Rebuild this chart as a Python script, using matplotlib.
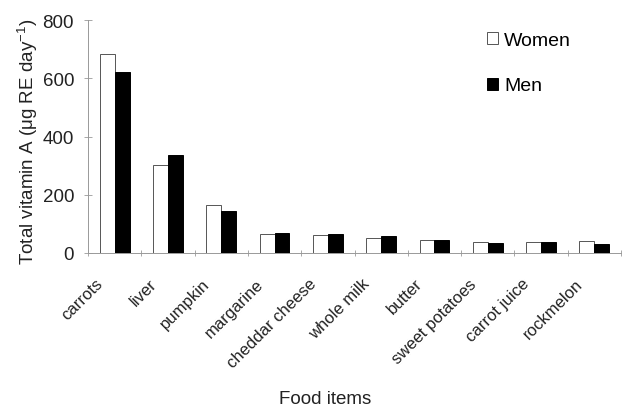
import matplotlib
matplotlib.use('Agg')
import matplotlib.pyplot as plt
import matplotlib.transforms as mtransforms
import numpy as np

foods = ['carrots', 'liver', 'pumpkin', 'margarine', 'cheddar cheese', 'whole milk',
         'butter', 'sweet potatoes', 'carrot juice', 'rockmelon']
women = [684, 301, 164, 65, 61, 51, 44, 37, 37, 41]
men = [622, 335, 143, 68, 64, 58, 44, 34, 37, 31]

plt.rcParams['font.family'] = ['Liberation Sans', 'DejaVu Sans']
plt.rcParams['mathtext.fontset'] = 'custom'
plt.rcParams['mathtext.rm'] = 'Liberation Sans'
plt.rcParams['mathtext.it'] = 'Liberation Sans'

fig = plt.figure(figsize=(6.22, 4.10), dpi=100)
ax = fig.add_axes([88 / 622, 1 - 254 / 410, 533 / 622, 233 / 410])

x = np.arange(len(foods))
w = 0.28
ax.bar(x - w / 2, women, w, color='white', edgecolor='#555555', linewidth=0.7, label='Women')
ax.bar(x + w / 2, men, w, color='black', edgecolor='black', linewidth=0.7, label='Men')

ax.set_xlim(-0.47, 9.29)
ax.set_ylim(0, 800)
ax.set_yticks([0, 200, 400, 600, 800])
ax.tick_params(axis='y', labelsize=13.5, direction='inout', length=6, width=0.6,
               color='#999999', pad=7, labelcolor='#222222')

ax.set_xticks(x)
ax.set_xticklabels(foods, rotation=45, ha='right', va='center', rotation_mode='anchor',
                   fontsize=12, color='#222222')
ax.tick_params(axis='x', length=0, pad=0)
offset = mtransforms.ScaledTranslation(-0.14, -0.28, fig.dpi_scale_trans)
for lab in ax.get_xticklabels():
    lab.set_transform(lab.get_transform() + offset)
ax.set_xticks(np.arange(-0.5, 9.6, 1.0), minor=True)
ax.tick_params(axis='x', which='minor', direction='inout', length=5, width=0.6, color='#999999')

for s in ['top', 'right']:
    ax.spines[s].set_visible(False)
ax.spines['left'].set_color('#999999')
ax.spines['bottom'].set_color('#999999')
ax.spines['left'].set_linewidth(0.7)
ax.spines['bottom'].set_linewidth(0.7)

ax.set_ylabel('Total vitamin A (\u03bcg RE day$^{-1}$)', fontsize=13.5, color='#222222')
ax.yaxis.set_label_coords(-0.09, 0.48)
ax.set_xlabel('Food items', fontsize=13.5, color='#222222')
ax.xaxis.set_label_coords(0.445, -0.59)

ax.legend(loc='upper left', bbox_to_anchor=(487 / 622, 1 - 33 / 410),
          bbox_transform=fig.transFigure, frameon=False, fontsize=14,
          handlelength=0.57, handleheight=0.57, handletextpad=0.3, labelspacing=1.46,
          borderpad=0, borderaxespad=0)

fig.savefig('out.png', dpi=100)
